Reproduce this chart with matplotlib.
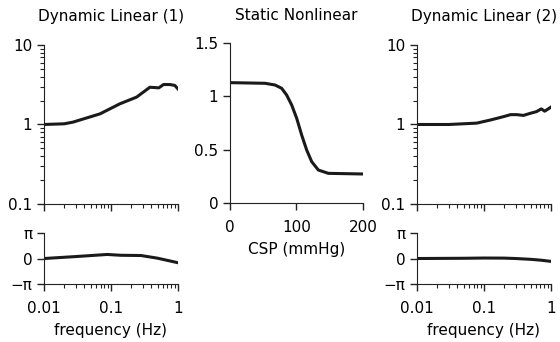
import numpy as np
import matplotlib.pyplot as plt

# data
freq1 = [0.01, 0.02, 0.027, 0.0686, 0.136, 0.242, 0.382, 0.52, 0.61, 0.76, 0.9, 1.0]
mag1 = [1.0, 1.02, 1.07, 1.36, 1.82, 2.21, 2.94, 2.89, 3.18, 3.18, 3.1, 2.81]
phase_f1 = [0.01, 0.031, 0.088, 0.14, 0.28, 0.49, 0.98]
phase1 = [0.0, 0.25, 0.5, 0.4, 0.37, 0.05, -0.5]

freq2 = [0.01, 0.03, 0.078, 0.126, 0.2, 0.25, 0.31, 0.39, 0.49, 0.61, 0.72, 0.81, 1.0]
mag2 = [1.0, 1.0, 1.04, 1.14, 1.26, 1.33, 1.33, 1.3, 1.38, 1.45, 1.57, 1.47, 1.65]
phase_f2 = [0.01, 0.05, 0.1, 0.2, 0.3, 0.5, 0.7, 1.0]
phase2 = [0.0, 0.03, 0.06, 0.05, 0.0, -0.1, -0.2, -0.35]

csp = [0, 52.6, 67.7, 77.7, 85.2, 92.8, 100.3, 107.8, 115.3, 122.9, 132.9, 147.9, 200]
gain = [1.128, 1.122, 1.106, 1.075, 1.012, 0.918, 0.794, 0.637, 0.497, 0.387, 0.309, 0.278, 0.272]

titles = ['Dynamic Linear (1)', 'Static Nonlinear', 'Dynamic Linear (2)']
FS = 11


def style(ax):
    ax.spines['top'].set_visible(False)
    ax.spines['right'].set_visible(False)
    ax.tick_params(which='major', length=5, width=1, labelsize=FS, color='#222222')
    ax.tick_params(which='minor', length=3, width=0.8, color='#222222')
    ax.tick_params(axis='x', which='major', pad=7)
    for s in ax.spines.values():
        s.set_color('#222222')


def main():
    fig = plt.figure(figsize=(5.6, 3.42), dpi=100)
    lw = 2.2
    col = '#1a1a1a'

    for f, m, pf, p, left in [(freq1, mag1, phase_f1, phase1, 0.0786),
                              (freq2, mag2, phase_f2, phase2, 0.7446)]:
        axm = fig.add_axes([left, 0.4035, 0.239, 0.465])
        axm.plot(f, m, color=col, lw=lw, solid_joinstyle='round')
        axm.set_xscale('log')
        axm.set_yscale('log')
        axm.set_xlim(0.01, 1)
        axm.set_ylim(0.1, 10)
        axm.set_yticks([0.1, 1, 10])
        axm.set_yticklabels(['0.1', '1', '10'])
        axm.tick_params(axis='x', which='both', labelbottom=False)
        style(axm)

        axp = fig.add_axes([left, 0.1696, 0.239, 0.149])
        axp.plot(pf, p, color=col, lw=lw, solid_joinstyle='round')
        axp.set_xscale('log')
        axp.set_xlim(0.01, 1)
        axp.set_ylim(-np.pi, np.pi)
        axp.set_yticks([-np.pi, 0, np.pi])
        axp.set_yticklabels(['\u2212\u03c0', '0', '\u03c0'])
        axp.set_xticks([0.01, 0.1, 1])
        axp.set_xticklabels(['0.01', '0.1', '1'])
        axp.set_xlabel('frequency (Hz)', fontsize=FS, labelpad=5)
        style(axp)

    axs = fig.add_axes([0.4107, 0.4064, 0.2375, 0.468])
    axs.plot(csp, gain, color=col, lw=lw, solid_joinstyle='round')
    axs.set_xlim(0, 200)
    axs.set_ylim(0, 1.5)
    axs.set_xticks([0, 100, 200])
    axs.set_yticks([0, 0.5, 1, 1.5])
    axs.set_yticklabels(['0', '0.5', '1', '1.5'])
    axs.set_xlabel('CSP (mmHg)', fontsize=FS, labelpad=5)
    style(axs)

    for x, t in zip([0.199, 0.529, 0.864], titles):
        fig.text(x, 1 - 16 / 342, t, ha='center', va='center', fontsize=FS)

    fig.savefig('out.png', dpi=100)


if __name__ == '__main__':
    main()
